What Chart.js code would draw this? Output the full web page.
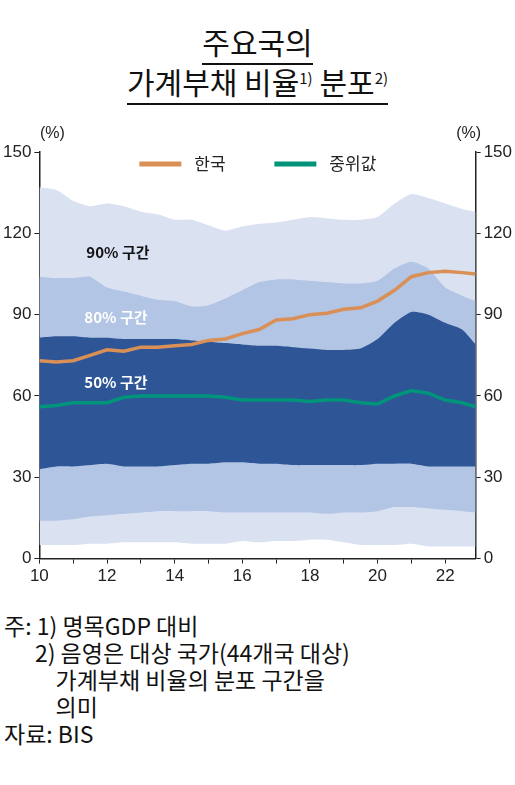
<!DOCTYPE html>
<html><head><meta charset="utf-8">
<script src="https://cdn.jsdelivr.net/npm/chart.js@4"></script>
<style>
body{margin:0;width:515px;height:785px;background:#fff;font-family:"Liberation Sans","Noto Sans CJK KR",sans-serif;color:#111;overflow:hidden}
.t{position:absolute;left:0;width:515px;text-align:center;font-family:"Noto Sans CJK KR";font-size:30px;line-height:38px}
.t span{border-bottom:2px solid #111}
#wrap{position:absolute;left:0;top:120px;width:515px;height:470px}
.n{position:absolute;left:4px;top:612px;font-family:"Noto Sans CJK KR","Liberation Sans";font-size:23px;line-height:27px}
sup{font-size:15px;position:relative;top:-10px;vertical-align:baseline;line-height:0}
</style></head><body>
<div class="t" style="top:22px"><span>주요국의</span></div>
<div class="t" style="top:62px"><span>가계부채 비율<sup>1)</sup> 분포<sup>2)</sup></span></div>
<div id="wrap"><canvas id="c"></canvas></div>
<div class="n">주: 1) 명목GDP 대비<br>&nbsp;&nbsp;&nbsp;&nbsp;&nbsp;&nbsp;2) 음영은 대상 국가(44개국 대상)<br>&nbsp;&nbsp;&nbsp;&nbsp;&nbsp;&nbsp;&nbsp;&nbsp;&nbsp;&nbsp;가계부채 비율의 분포 구간을<br>&nbsp;&nbsp;&nbsp;&nbsp;&nbsp;&nbsp;&nbsp;&nbsp;&nbsp;&nbsp;의미<br>자료: BIS</div>
<script>
// semi-annual readings (year, 2-digit)
const years = [10,10.5,11,11.5,12,12.5,13,13.5,14,14.5,15,15.5,16,16.5,17,17.5,18,18.5,19,19.5,20,20.5,21,21.5,22,22.5,22.9];
const p95 = [137,136,132,130,131,130,128,127,125,125,123,121,122.5,123.5,124,125,126,125.5,125,125,126,131,134.5,133,131,129,128];
const p90 = [104,103.5,103.5,104,100,98.5,97,95.5,95,93,93.5,96,99,102,103,103,102.5,102,101.5,101.5,102.5,107,109.5,107,100,97,95];
const p75 = [81.5,82,82,81.5,81.5,81,81,81,81,80.5,80,79.5,79,78.5,78.5,78,77.5,77,77,77.5,81,87,91,90,87,84.5,79];
const p25 = [33,34,34,34.5,35,34,34,34,34.5,35,35,35.5,35.5,35,35,34.5,34.5,34.5,34.5,34.5,35,35,35,34,34,34,34];
const p10 = [14,14,14.5,15.5,16,16.5,17,17.5,17.5,17.5,17.5,17,17,17,17,17,17,16.5,17,17,17.5,19,19,18.5,18,17.5,17];
const p5 = [5,5,5,5.5,5.5,6,6,6,6,5.5,5.5,5.5,6.5,6,6.5,6.5,7,7,6,5,5,5,5.5,4.5,4.5,4.5,4.5];
const korea = [73,72.5,73,75,77,76.5,78,78,78.5,79,80.5,81,83,84.5,88,88.5,90,90.5,92,92.5,95,99,104,105.5,106,105.5,105];
const median = [56,56.5,57.5,57.5,57.5,59.5,60,60,60,60,60,59.5,58.5,58.5,58.5,58.5,58,58.5,58.5,57.5,57,60,62,61,58.5,57.5,56];
const yTicks = [0,30,60,90,120,150];

const pts = a => a.map((v,i)=>({x:years[i],y:v}));
const band = (d,col,order,target) => ({data:pts(d),order,borderWidth:0,pointRadius:0,backgroundColor:col,fill:target===undefined?false:{target},tension:0.2});
const font = {family:'"Liberation Sans"',size:17};

const overlay = {
  id:'overlay',
  afterDatasetsDraw(chart){
    const {ctx,chartArea:a,scales} = chart;
    ctx.save();
    ctx.font = '17px "Noto Sans CJK KR"';
    ctx.textBaseline='middle';
    const ly = a.top+12;
    [['한국','#d98f55',a.left+100],['중위값','#00957a',a.left+235]].forEach(([t,c,x])=>{
      ctx.fillStyle=c; ctx.fillRect(x,ly-2.5,42,5);
      ctx.fillStyle='#222'; ctx.fillText(t,x+55,ly);
    });
    ctx.font='bold 15px "Noto Sans CJK KR"';
    ctx.fillStyle='#111'; ctx.fillText('90% 구간',a.left+47,scales.y.getPixelForValue(113));
    ctx.fillStyle='#fff'; ctx.fillText('80% 구간',a.left+45,scales.y.getPixelForValue(89));
    ctx.fillText('50% 구간',a.left+45,scales.y.getPixelForValue(65));
    ctx.font='16px "Liberation Sans"'; ctx.fillStyle='#222'; ctx.textAlign='center';
    ctx.fillText('(%)',a.left+13,a.top-18); ctx.fillText('(%)',a.right-7,a.top-18);
    ctx.restore();
  }
};

new Chart(document.getElementById('c'),{
  type:'line',
  data:{datasets:[
    band(p5,'transparent',3),
    band(p95,'#dae2f2',3,0),
    band(p10,'transparent',2),
    band(p90,'#b3c5e5',2,2),
    band(p25,'transparent',1),
    band(p75,'#2e5596',1,4),
    {data:pts(korea),order:0,borderColor:'#d98f55',borderWidth:3.5,pointRadius:0,fill:false},
    {data:pts(median),order:0,borderColor:'#00957a',borderWidth:3.5,pointRadius:0,fill:false}
  ]},
  options:{
    responsive:true,maintainAspectRatio:false,animation:false,
    layout:{padding:{top:32,left:0,right:0,bottom:0}},
    plugins:{legend:{display:false},tooltip:{enabled:false},filler:{drawTime:'beforeDatasetsDraw'}},
    scales:{
      x:{type:'linear',min:10,max:22.9,
        afterBuildTicks:ax=>{ax.ticks=[10,11,12,13,14,15,16,17,18,19,20,21,22].map(v=>({value:v}));},
        ticks:{font,color:'#222',maxRotation:0,autoSkip:false,callback:v=>v%2===0?v:''},
        grid:{drawOnChartArea:false,color:'#222',tickLength:5},border:{color:'#222',width:1.5}},
      y:{min:0,max:150,afterBuildTicks:ax=>{ax.ticks=yTicks.map(v=>({value:v}));},
        ticks:{font,color:'#222'},grid:{drawOnChartArea:false,color:'#222',tickLength:5},border:{color:'#222',width:1.5}},
      y2:{position:'right',min:0,max:150,afterBuildTicks:ax=>{ax.ticks=yTicks.map(v=>({value:v}));},
        ticks:{font,color:'#222'},grid:{drawOnChartArea:false,color:'#222',tickLength:5},border:{color:'#222',width:1.5}}
    }
  },
  plugins:[overlay]
});
</script>
</body></html>
